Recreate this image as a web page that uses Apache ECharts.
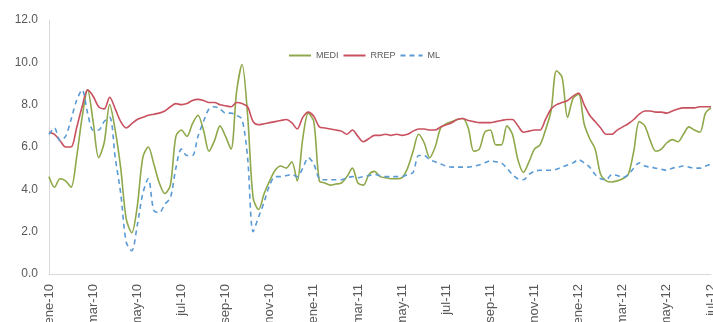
<!DOCTYPE html>
<html>
<head>
<meta charset="utf-8">
<title>MEDI RREP ML</title>
<script src="https://cdn.jsdelivr.net/npm/echarts@6/dist/echarts.min.js"></script>
<style>
  html, body { margin: 0; padding: 0; background: #ffffff; }
  #chart { width: 713px; height: 322px; }
</style>
</head>
<body>
<div id="chart"></div>
<script>
// etiquetas del eje x (cada 2 meses)
const xLabels = ['ene-10', 'mar-10', 'may-10', 'jul-10', 'sep-10', 'nov-10',
  'ene-11', 'mar-11', 'may-11', 'jul-11', 'sep-11', 'nov-11',
  'ene-12', 'mar-12', 'may-12', 'jul-12']
const yTicks = [0, 2, 4, 6, 8, 10, 12]
const seriesNames = ['MEDI', 'RREP', 'ML']

// datos semanales (4 por mes, desde ene-10)
const medi = [
  4.6, 4.1, 4.5, 4.4, 4.1, 5.5, 7.4, 8.7, 7.2, 5.5, 6.2, 8.0, 6.8, 5.0, 2.6, 1.95,
  3.2, 5.5, 6.0, 5.2, 4.3, 3.8, 4.2, 6.5, 6.8, 6.5, 7.1, 7.5, 6.8, 5.8, 6.3, 7.0,
  6.5, 5.9, 8.6, 9.9, 7.5, 3.6, 3.05, 3.8, 4.4, 4.9, 5.1, 5.0, 5.3, 4.4, 6.4, 7.6,
  7.2, 4.4, 4.3, 4.2, 4.25, 4.3, 4.6, 5.0, 4.3, 4.2, 4.7, 4.85, 4.6, 4.55, 4.5, 4.5,
  4.55, 5.0, 5.8, 6.6, 6.2, 5.5, 6.0, 6.9, 7.1, 7.2, 7.3, 7.35, 6.9, 5.8, 5.9, 6.7,
  6.8, 6.1, 6.1, 7.0, 6.6, 5.4, 4.8, 5.3, 5.9, 6.1, 6.8, 7.7, 9.6, 9.3, 7.4, 8.3,
  8.5, 7.1, 6.4, 5.9, 4.7, 4.4, 4.35, 4.4, 4.5, 4.7, 5.8, 7.2, 7.0, 6.3, 5.8, 5.9,
  6.2, 6.35, 6.25, 6.6, 6.95, 6.8, 6.7, 7.6, 7.85
]
const rrep = [
  6.7, 6.6, 6.3, 6.0, 6.0, 6.9, 7.9, 8.7, 8.4, 7.9, 7.8, 8.35, 7.8, 7.2, 6.9, 7.1,
  7.3, 7.4, 7.5, 7.55, 7.6, 7.7, 7.9, 8.05, 8.0, 8.05, 8.2, 8.25, 8.2, 8.1, 8.1, 8.0,
  7.95, 7.9, 8.1, 8.05, 7.9, 7.2, 7.05, 7.1, 7.15, 7.2, 7.25, 7.3, 7.15, 6.85, 7.4, 7.65,
  7.45, 6.95, 6.9, 6.85, 6.8, 6.75, 6.6, 6.8, 6.5, 6.25, 6.4, 6.55, 6.55, 6.6, 6.55, 6.6,
  6.55, 6.6, 6.75, 6.85, 6.85, 6.8, 6.8, 6.95, 7.05, 7.15, 7.3, 7.35, 7.25, 7.2, 7.15, 7.15,
  7.15, 7.2, 7.25, 7.3, 7.3, 7.0, 6.7, 6.75, 6.8, 6.8, 7.3, 7.8, 8.0, 8.1, 8.2, 8.4,
  8.55, 8.0, 7.5, 7.2, 6.9, 6.6, 6.6, 6.8, 6.95, 7.1, 7.3, 7.55, 7.7, 7.7, 7.65, 7.65,
  7.6, 7.7, 7.8, 7.85, 7.85, 7.85, 7.9, 7.9, 7.9
]
const ml = [
  6.6, 6.9, 6.3, 6.5, 7.3, 8.2, 8.7, 7.6, 6.8, 6.8, 7.2, 7.4, 5.5, 3.8, 1.5, 1.1,
  2.3, 3.8, 4.5, 3.0, 2.9, 3.3, 3.6, 5.0, 5.9, 5.6, 5.6, 6.5, 7.2, 7.8, 7.9, 7.8,
  7.6, 7.6, 7.5, 7.3, 5.5, 2.0, 2.7, 3.4, 4.2, 4.6, 4.6, 4.65, 4.7, 4.6, 5.0, 5.5,
  5.2, 4.5, 4.45, 4.45, 4.45, 4.45, 4.55, 4.6, 4.55, 4.6, 4.65, 4.7, 4.65, 4.6, 4.6, 4.6,
  4.6, 4.7, 4.8, 5.6, 5.6, 5.4, 5.3, 5.2, 5.1, 5.05, 5.05, 5.05, 5.05, 5.1, 5.15, 5.25,
  5.35, 5.3, 5.25, 5.0, 4.7, 4.5, 4.45, 4.7, 4.85, 4.9, 4.9, 4.9, 4.95, 5.05, 5.15, 5.25,
  5.4, 5.25, 5.05, 4.7, 4.5, 4.45, 4.7, 4.65, 4.55, 4.7, 5.0, 5.25, 5.1, 5.05, 5.0, 4.95,
  4.9, 5.0, 5.05, 5.1, 5.05, 5.0, 5.0, 5.1, 5.2
]

// pares [mes, valor] para el eje de valores
const toPairs = (arr) => arr.map((v, i) => [i / 4, v])

const myChart = echarts.init(document.getElementById('chart'))

const labelColor = '#595959'
const axisColor = '#d9d9d9'

const options = {
  animation: false,
  backgroundColor: '#ffffff',
  textStyle: { fontFamily: 'Liberation Sans, Arial, sans-serif' },
  // leyenda (solo la línea, sin círculo)
  legend: {
    data: seriesNames,
    left: 283,
    top: 46,
    itemWidth: 22,
    itemHeight: 10,
    itemGap: 4,
    itemStyle: { color: 'rgba(0,0,0,0)', borderColor: 'rgba(0,0,0,0)', borderWidth: 0 },
    textStyle: { color: labelColor, fontSize: 9 }
  },
  grid: {
    left: 49,
    right: 2,
    top: 20,
    bottom: 48,
    containLabel: false,
    outerBoundsMode: 'none' // las etiquetas pueden salirse por abajo
  },
  xAxis: {
    type: 'value',
    min: 0,
    max: 30,
    interval: 2,
    axisLine: { show: true, lineStyle: { color: axisColor } },
    axisTick: { show: false },
    splitLine: { show: false },
    axisLabel: {
      rotate: 90,
      margin: 10,
      color: labelColor,
      fontSize: 13,
      showMaxLabel: true,
      formatter: (v) => xLabels[Math.round(v / 2)] || ''
    }
  },
  yAxis: {
    type: 'value',
    min: yTicks[0],
    max: yTicks[yTicks.length - 1],
    interval: 2,
    axisLine: { show: true, lineStyle: { color: axisColor } },
    axisTick: { show: false },
    splitLine: { show: false },
    axisLabel: {
      color: labelColor,
      fontSize: 12,
      margin: 11,
      formatter: (v) => v.toFixed(1)
    }
  },
  series: [
    {
      name: seriesNames[0],
      type: 'line',
      data: toPairs(medi),
      symbol: 'none',
      smooth: 0.3,
      lineStyle: { color: '#8ea84a', width: 1.6 },
      itemStyle: { color: '#8ea84a' }
    },
    {
      name: seriesNames[1],
      type: 'line',
      data: toPairs(rrep),
      symbol: 'none',
      smooth: 0.3,
      lineStyle: { color: '#c9505f', width: 1.6 },
      itemStyle: { color: '#c9505f' }
    },
    {
      name: seriesNames[2],
      type: 'line',
      data: toPairs(ml),
      symbol: 'none',
      smooth: 0.3,
      lineStyle: { color: '#5b9bd5', width: 1.6, type: [5, 4] },
      itemStyle: { color: '#5b9bd5' }
    }
  ]
}
myChart.setOption(options)
</script>
</body>
</html>
